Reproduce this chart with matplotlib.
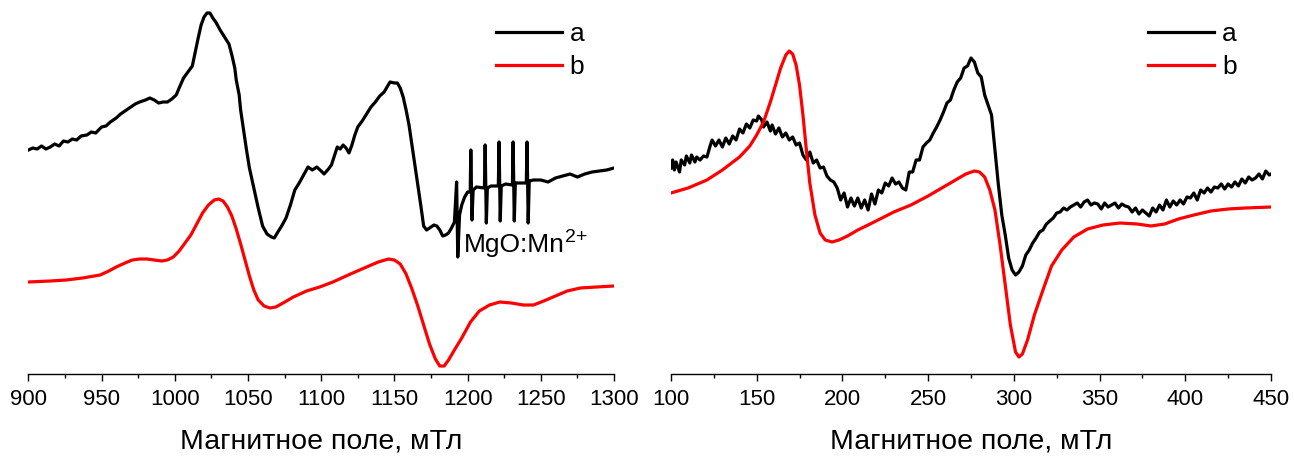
import matplotlib
matplotlib.use("Agg")
import matplotlib.pyplot as plt
from matplotlib.ticker import MultipleLocator

plt.rcParams['font.family'] = ['Liberation Sans', 'DejaVu Sans']

# ---- left panel: field (mT) and intensity (a.u.) ----
left_a_field = [900, 903, 906, 909, 912, 915, 918, 921, 924, 927, 930, 933, 936, 940, 943, 946,
                950, 953, 956, 960, 963, 966, 970, 973, 976, 980, 983, 986, 989, 992, 995, 998,
                1001, 1003, 1006, 1009, 1012, 1014, 1016, 1018, 1020, 1022, 1024, 1026, 1028,
                1031, 1034, 1037, 1039, 1041, 1042, 1044, 1045, 1047, 1049, 1051, 1054, 1057,
                1060, 1063, 1066, 1068, 1070, 1073, 1076, 1079, 1082, 1085, 1088, 1091, 1094,
                1097, 1100, 1102, 1105, 1107, 1109, 1111, 1113, 1115, 1117, 1119, 1121, 1123,
                1125, 1128, 1131, 1134, 1137, 1140, 1143, 1145, 1147, 1150, 1152, 1154, 1156,
                1158, 1160, 1162, 1164, 1166, 1168, 1170, 1172, 1175, 1177, 1179, 1181, 1183,
                1185, 1187, 1189, 1191, 1192.5, 1193.3, 1194.5, 1196, 1198, 1200, 1201.8,
                1202.2, 1203.0, 1203.8, 1206, 1211.5, 1212.0, 1212.8, 1213.5, 1216, 1221,
                1221.5, 1222.3, 1223, 1226, 1230.6, 1231.1, 1231.9, 1232.6, 1236, 1240.1,
                1240.6, 1241.4, 1242.1, 1245, 1250, 1255, 1260, 1265, 1270, 1275, 1280, 1285,
                1290, 1295, 1300]
left_a_signal = [224, 226, 225, 228, 225, 227, 230, 228, 233, 232, 235, 234, 238, 239, 242, 241,
                 247, 248, 252, 256, 260, 263, 267, 270, 272, 274, 276, 274, 271, 272, 272, 275,
                 279, 286, 296, 302, 308, 322, 336, 349, 357, 361, 361, 356, 352,
                 344, 337, 330, 319, 306, 294, 279, 264, 244, 224, 206, 186, 166,
                 148, 140, 137, 136, 141, 148, 156, 169, 184, 191, 199, 207, 204,
                 207, 203, 200, 205, 209, 218, 227, 225, 229, 226, 221, 229, 239,
                 247, 253, 260, 267, 272, 278, 282, 287, 292, 291, 291, 286, 277,
                 264, 249, 229, 209, 189, 169, 148, 144, 147, 149, 148, 144, 138,
                 139, 141, 146, 152, 192, 117, 159, 169, 177, 182, 182,
                 224, 154, 184, 187, 186, 229, 151, 186, 188, 188,
                 232, 153, 188, 190, 189, 232, 153, 191, 191, 191,
                 232, 151, 193, 194, 194, 192, 196, 198, 200, 197, 200, 202,
                 203, 204, 206]

left_b_field = [900, 915, 926, 937, 949, 955, 960, 966, 971, 976, 981, 986, 991, 995, 999, 1003,
                1007, 1011, 1015, 1019, 1023, 1027, 1030, 1033, 1036, 1039, 1042, 1045, 1048,
                1051, 1054, 1057, 1061, 1065, 1069, 1074, 1081, 1090, 1099, 1108, 1120, 1131,
                1139, 1146, 1150, 1154, 1158, 1162, 1166, 1170, 1174, 1178, 1181, 1184, 1187,
                1191, 1196, 1202, 1208, 1215, 1222, 1230, 1238, 1245, 1252, 1260, 1268, 1277,
                1288, 1300]
left_b_signal = [92, 93, 94, 96, 99, 103, 107, 111, 114, 115, 115, 114, 113, 114, 117, 123,
                 131, 139, 150, 161, 169, 174, 175, 173, 167, 158, 145, 130, 114,
                 98, 84, 74, 68, 66, 67, 71, 77, 83, 87, 92, 100, 107,
                 112, 115, 114, 110, 100, 85, 68, 49, 30, 15, 8, 8, 14,
                 24, 36, 52, 63, 69, 72, 71, 69, 69, 73, 78, 83, 86,
                 87, 88]

# ---- right panel ----
right_a_field = [100, 101, 102, 103, 105, 106, 108, 109, 111, 112, 114, 115, 117, 119, 121, 123,
                 124, 126, 128, 130, 132, 134, 136, 138, 140, 142, 144, 146, 148, 150, 151, 153,
                 154, 156, 158, 159, 161, 163, 165, 167, 169, 171, 173, 175, 177, 179, 181, 183,
                 185, 187, 189, 191, 193, 195, 197, 199, 201, 203, 205, 207, 209, 211, 213, 215,
                 217, 219, 221, 223, 225, 227, 229, 231, 233, 235, 237, 239, 241, 243, 245, 247,
                 249, 251, 253, 255, 257, 259, 261, 263, 265, 267, 269, 271, 273, 275, 277, 279,
                 281, 283, 285, 287, 289, 291, 293, 295, 297, 299, 301, 303, 305, 307, 309, 311,
                 313, 315, 317, 319, 321, 323, 325, 327, 329, 331, 333, 335, 337, 339, 341, 343,
                 345, 347, 349, 351, 353, 355, 357, 359, 361, 363, 365, 367, 369, 371, 373, 375,
                 377, 379, 381, 383, 385, 387, 389, 391, 393, 395, 397, 399, 401, 403, 405, 407,
                 409, 411, 413, 415, 417, 419, 421, 423, 425, 427, 429, 431, 433, 435, 437, 439,
                 441, 443, 445, 447, 449, 450]
right_a_signal = [206, 214, 204, 212, 202, 214, 209, 218, 211, 219, 212, 217, 214, 218, 217, 229,
                  234, 228, 234, 227, 236, 230, 238, 234, 245, 241, 250, 246, 254, 253, 258, 254,
                  247, 252, 243, 249, 240, 246, 237, 241, 234, 237, 229, 231, 219, 214, 222, 211,
                  214, 206, 207, 198, 194, 192, 186, 174, 181, 167, 176, 168, 176, 166, 174, 164,
                  180, 170, 184, 181, 191, 188, 196, 190, 192, 186, 184, 202, 202, 214, 214, 227,
                  231, 234, 241, 247, 254, 262, 271, 274, 284, 292, 296, 306, 308, 316, 312, 301,
                  297, 279, 269, 259, 224, 189, 159, 139, 116, 104, 99, 102, 108, 119, 124, 131,
                  136, 142, 144, 150, 153, 156, 161, 162, 166, 164, 167, 169, 171, 167, 172, 174,
                  169, 171, 170, 165, 171, 167, 169, 171, 166, 170, 168, 167, 162, 166, 160, 164,
                  161, 158, 166, 162, 169, 164, 174, 167, 173, 169, 174, 170, 177, 176, 181, 174,
                  184, 181, 186, 182, 187, 186, 190, 185, 190, 187, 192, 188, 195, 191, 197, 194,
                  196, 200, 195, 203, 199, 200]

right_b_field = [100, 110, 121, 130, 140, 146, 150, 154, 158, 161, 164, 167, 169, 171, 173, 175,
                 177, 179, 181, 184, 187, 190, 194, 198, 203, 209, 215, 222, 230, 240, 250, 258,
                 266, 272, 277, 280, 283, 286, 289, 292, 295, 298, 301, 303, 305, 308, 312, 317,
                 322, 328, 335, 343, 352, 362, 372, 380, 388, 396, 405, 415, 425, 435, 450]
right_b_signal = [181, 186, 194, 204, 217, 228, 239, 252, 272, 289, 306, 319, 323, 320, 309, 289,
                  259, 224, 191, 159, 141, 134, 132, 134, 138, 144, 149, 155, 162, 169, 178, 186,
                  194, 200, 203, 202, 197, 184, 164, 129, 89, 49, 22, 17, 20, 34, 59, 84,
                  108, 124, 137, 145, 149, 151, 150, 148, 150, 155, 159, 163, 165, 166, 167]

labels = ["a", "b"]
xlabel = "Магнитное поле, мТл"

fig = plt.figure(figsize=(12.94, 4.58), dpi=100)
ax1 = fig.add_axes([0.0219, 0.1834, 0.4526, 0.8166])
ax2 = fig.add_axes([0.5185, 0.1834, 0.4637, 0.8166])

ax1.plot(left_a_field, left_a_signal, color="black", lw=2.3, label=labels[0])
ax1.plot(left_b_field, left_b_signal, color="red", lw=2.3, label=labels[1])
# MgO:Mn2+ reference label with a tight superscript
t = ax1.text(1197.2, 122, "MgO:Mn", fontsize=19, va="baseline", ha="left")
ax1.annotate("2+", xy=(1.0, 1.0), xycoords=t, xytext=(0.5, 3), textcoords="offset points",
             fontsize=14, ha="left", va="top")
ax1.set_xlim(900, 1300)

ax2.plot(right_a_field, right_a_signal, color="black", lw=2.3, label=labels[0])
ax2.plot(right_b_field, right_b_signal, color="red", lw=2.3, label=labels[1])
ax2.set_xlim(100, 450)

for ax, anchor_x in ((ax1, 0.99), (ax2, 0.983)):
    ax.set_ylim(0, 374)
    ax.xaxis.set_major_locator(MultipleLocator(50))
    ax.xaxis.set_minor_locator(MultipleLocator(25))
    ax.tick_params(axis="x", which="major", direction="out", length=5, width=1, labelsize=16, pad=6)
    ax.tick_params(axis="x", which="minor", direction="out", length=3, width=1)
    ax.set_yticks([])
    for side in ("left", "right", "top"):
        ax.spines[side].set_visible(False)
    ax.spines["bottom"].set_linewidth(1)
    ax.set_xlabel(xlabel, fontsize=20.5, labelpad=13)
    ax.legend(loc="upper right", bbox_to_anchor=(anchor_x, 1.005), frameon=False, fontsize=19,
              handlelength=2.5, handletextpad=0.3, labelspacing=0.35)

fig.savefig("out.png", dpi=100)
